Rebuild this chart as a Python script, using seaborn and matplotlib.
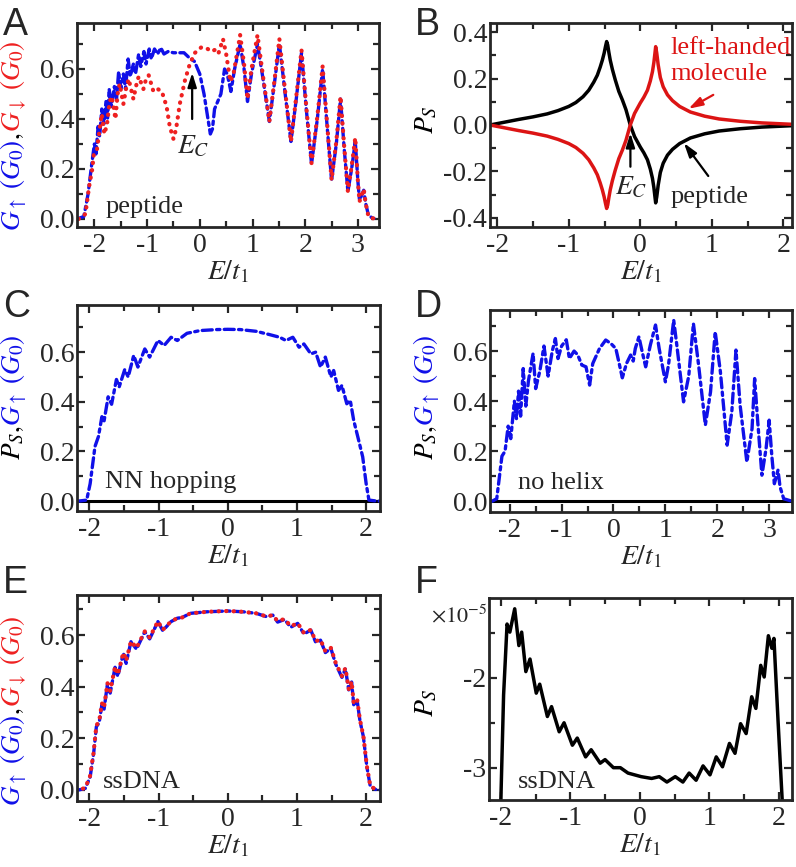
"""Six-panel conductance / spin-polarisation figure (panels A-F)."""

import matplotlib

matplotlib.use("Agg")

import matplotlib.pyplot as plt  # noqa: E402
import seaborn as sns  # noqa: E402
from matplotlib.ticker import FormatStrFormatter, MultipleLocator  # noqa: E402

W, H = 796, 867

BLUE = "#1010e8"
RED = "#ee2020"
RED_B = "#dc1414"
BLACK = "#000000"

# ---- Panel A: peptide, G_up (blue) and G_down (red) ----
a_up_E = [-2.33, -2.2, -2.12, -2.05, -2.0, -1.97, -1.93, -1.9, -1.86, -1.82, -1.78, -1.75,
          -1.72, -1.68, -1.62, -1.58, -1.54, -1.5, -1.45, -1.41, -1.36, -1.32, -1.26, -1.22,
          -1.16, -1.12, -1.06, -1.02, -0.96, -0.92, -0.86, -0.8, -0.74, -0.68, -0.6, -0.5,
          -0.4, -0.3, -0.2, -0.1, 0.0, 0.08, 0.14, 0.2, 0.24, 0.28, 0.34, 0.4, 0.47, 0.52,
          0.59, 0.66, 0.765, 0.84, 0.905, 0.98, 1.095, 1.2, 1.32, 1.42, 1.51, 1.62, 1.73,
          1.83, 1.93, 2.02, 2.12, 2.23, 2.33, 2.42, 2.5, 2.59, 2.67, 2.74, 2.81, 2.88, 2.95,
          3.0, 3.03, 3.08, 3.11, 3.15, 3.2, 3.28, 3.38]
a_up_G = [0.0, 0.01, 0.1, 0.22, 0.3, 0.26, 0.37, 0.33, 0.44, 0.38, 0.47, 0.40,
          0.52, 0.45, 0.53, 0.48, 0.59, 0.52, 0.58, 0.52, 0.64, 0.57, 0.62, 0.58,
          0.66, 0.61, 0.67, 0.62, 0.68, 0.64, 0.68, 0.66, 0.685, 0.66, 0.67, 0.665,
          0.665, 0.665, 0.645, 0.63, 0.58, 0.5, 0.42, 0.34, 0.36, 0.44, 0.47, 0.5, 0.6, 0.58,
          0.51, 0.6, 0.70, 0.6, 0.47, 0.58, 0.70, 0.56, 0.39, 0.55, 0.70, 0.5, 0.31,
          0.48, 0.665, 0.44, 0.22, 0.4, 0.6, 0.36, 0.155, 0.3, 0.48, 0.28, 0.11, 0.2, 0.31,
          0.15, 0.075, 0.1, 0.115, 0.06, 0.015, 0.003, 0.0]

a_dn_E = [-2.3, -2.17, -2.1, -2.04, -2.01, -1.95, -1.9, -1.86, -1.81, -1.76, -1.71, -1.67,
          -1.6, -1.56, -1.52, -1.45, -1.4, -1.35, -1.26, -1.2, -1.16, -1.07, -1.02, -0.97,
          -0.88, -0.8, -0.72, -0.63, -0.57, -0.5, -0.45, -0.38, -0.28, -0.19, -0.09, 0.03,
          0.13, 0.22, 0.28, 0.35, 0.44, 0.5, 0.58, 0.64, 0.765, 0.84, 0.905, 0.98, 1.095,
          1.2, 1.32, 1.42, 1.51, 1.62, 1.73, 1.83, 1.93, 2.02, 2.12, 2.23, 2.33, 2.42, 2.5,
          2.59, 2.67, 2.74, 2.81, 2.88, 2.95, 3.0, 3.03, 3.08, 3.11, 3.15, 3.2, 3.28, 3.38]
a_dn_G = [0.0, 0.02, 0.13, 0.2, 0.26, 0.28, 0.36, 0.42, 0.34, 0.38, 0.47, 0.49,
          0.40, 0.50, 0.54, 0.46, 0.52, 0.56, 0.48, 0.54, 0.57, 0.52, 0.56, 0.575,
          0.51, 0.52, 0.51, 0.45, 0.37, 0.32, 0.36, 0.46, 0.556, 0.62, 0.665, 0.687,
          0.683, 0.67, 0.676, 0.66, 0.72, 0.66, 0.55, 0.58, 0.736, 0.62, 0.48, 0.6, 0.736,
          0.57, 0.39, 0.56, 0.72, 0.51, 0.31, 0.49, 0.675, 0.45, 0.223, 0.41, 0.61, 0.37, 0.156,
          0.31, 0.49, 0.29, 0.11, 0.21, 0.325, 0.15, 0.07, 0.1, 0.12, 0.06, 0.01, 0.003, 0.0]

# ---- Panel B: spin polarisation, peptide (black) and left-handed molecule (red) ----
b_E = [-2.1, -1.9, -1.7, -1.5, -1.3, -1.15, -1.0, -0.9, -0.8, -0.72, -0.65, -0.6,
       -0.56, -0.53, -0.505, -0.485, -0.47, -0.455, -0.44, -0.42, -0.39, -0.35, -0.3, -0.25,
       -0.2, -0.14, -0.08, 0.0, 0.05, 0.1, 0.14, 0.17, 0.19, 0.205, 0.215, 0.23, 0.25, 0.28,
       0.32, 0.38, 0.45, 0.55, 0.7, 0.9, 1.1, 1.4, 1.7, 2.12]
b_pep = [0.0, 0.012, 0.024, 0.035, 0.048, 0.062, 0.08, 0.097, 0.122, 0.15, 0.185, 0.215,
         0.25, 0.28, 0.31, 0.34, 0.36, 0.345, 0.315, 0.28, 0.24, 0.195, 0.145, 0.108,
         0.066, 0.0, -0.05, -0.095, -0.12, -0.15, -0.19, -0.23, -0.27, -0.31, -0.336, -0.31, -0.26, -0.205,
         -0.165, -0.13, -0.105, -0.08, -0.056, -0.038, -0.026, -0.016, -0.009, -0.003]
b_left = [0.0, -0.012, -0.024, -0.035, -0.048, -0.062, -0.08, -0.097, -0.122, -0.15, -0.185, -0.215,
          -0.25, -0.28, -0.31, -0.34, -0.36, -0.345, -0.315, -0.28, -0.24, -0.195, -0.145, -0.108,
          -0.066, 0.0, 0.05, 0.095, 0.12, 0.15, 0.19, 0.23, 0.27, 0.31, 0.338, 0.31, 0.26, 0.205,
          0.165, 0.13, 0.105, 0.08, 0.056, 0.038, 0.026, 0.016, 0.009, 0.003]

# ---- Panel C: NN hopping only ----
c_E = [-2.2, -2.15, -2.04, -1.99, -1.92, -1.87, -1.82, -1.79, -1.73, -1.68, -1.61, -1.57,
       -1.49, -1.44, -1.36, -1.3, -1.2, -1.13, -1.01, -0.92, -0.82, -0.73, -0.59, -0.4,
       -0.16, 0.0, 0.18, 0.41, 0.6, 0.75, 0.84, 0.94, 1.03, 1.1, 1.2, 1.27, 1.34, 1.41,
       1.49, 1.53, 1.6, 1.65, 1.72, 1.77, 1.82, 1.88, 1.95, 2.0, 2.04, 2.15, 2.2]
c_G = [0.0, 0.0, 0.004, 0.07, 0.22, 0.26, 0.34, 0.32, 0.42, 0.39, 0.49, 0.46,
       0.53, 0.5, 0.587, 0.54, 0.613, 0.58, 0.647, 0.627, 0.66, 0.647, 0.676, 0.687,
       0.691, 0.692, 0.691, 0.684, 0.671, 0.66, 0.647, 0.66, 0.62, 0.633, 0.593, 0.6, 0.54, 0.58,
       0.5, 0.526, 0.446, 0.466, 0.392, 0.406, 0.325, 0.258, 0.178, 0.07, 0.004, 0.0, 0.0]
c_ps_E = [-2.2, 2.2]
c_ps = [0.0, 0.0]

# ---- Panel D: no helix ----
d_E = [-2.38, -2.34, -2.25, -2.15, -2.09, -2.03, -1.98, -1.91, -1.87, -1.83, -1.79, -1.74,
       -1.69, -1.64, -1.55, -1.5, -1.42, -1.34, -1.26, -1.18, -1.12, -1.07, -1.0, -0.91,
       -0.85, -0.76, -0.69, -0.61, -0.53, -0.46, -0.4, -0.27, -0.15, -0.05, 0.045, 0.11,
       0.17, 0.25, 0.33, 0.38, 0.42, 0.49, 0.55, 0.62, 0.71, 0.81, 0.88, 1.0, 1.06, 1.16,
       1.22, 1.35, 1.45, 1.54, 1.64, 1.77, 1.87, 1.96, 2.06, 2.19, 2.28, 2.36, 2.44, 2.57,
       2.67, 2.72, 2.78, 2.86, 2.94, 3.0, 3.05, 3.1, 3.17, 3.21, 3.28, 3.44]
d_G = [0.0, 0.0, 0.01, 0.18, 0.2, 0.3, 0.25, 0.4, 0.33, 0.44, 0.34, 0.53,
       0.38, 0.48, 0.59, 0.45, 0.52, 0.62, 0.5, 0.6, 0.65, 0.57, 0.62, 0.645,
       0.57, 0.6, 0.585, 0.544, 0.537, 0.464, 0.55, 0.61, 0.644, 0.63, 0.61, 0.55,
       0.493, 0.55, 0.584, 0.56, 0.61, 0.657, 0.6, 0.537, 0.624, 0.704, 0.61, 0.477, 0.544, 0.724,
       0.624, 0.397, 0.5, 0.71, 0.544, 0.304, 0.437, 0.677, 0.517, 0.224, 0.357, 0.604, 0.384, 0.157,
       0.29, 0.49, 0.317, 0.104, 0.21, 0.324, 0.184, 0.07, 0.124, 0.057, 0.01, 0.0]
d_ps_E = [-2.38, 3.44]
d_ps = [0.0, 0.0]

# ---- Panel E: ssDNA, G_up (blue) and G_down (red) ----
e_E = [-2.2, -2.15, -2.06, -1.99, -1.94, -1.9, -1.86, -1.82, -1.79, -1.74, -1.7, -1.63,
       -1.59, -1.51, -1.47, -1.4, -1.32, -1.2, -1.13, -1.01, -0.94, -0.82, -0.73, -0.66,
       -0.54, -0.3, 0.0, 0.22, 0.41, 0.56, 0.65, 0.72, 0.82, 0.91, 1.01, 1.1, 1.2, 1.27,
       1.34, 1.41, 1.49, 1.56, 1.65, 1.7, 1.75, 1.79, 1.82, 1.87, 1.91, 1.96, 2.01, 2.06,
       2.15, 2.2]
e_up = [0.0, 0.0, 0.006, 0.05, 0.14, 0.245, 0.26, 0.33, 0.31, 0.41, 0.375, 0.475,
        0.44, 0.53, 0.49, 0.574, 0.545, 0.613, 0.585, 0.652, 0.617, 0.652, 0.665, 0.668,
        0.684, 0.69, 0.693, 0.69, 0.684, 0.671, 0.677, 0.65, 0.66, 0.63, 0.645, 0.604, 0.619, 0.572,
        0.58, 0.532, 0.548, 0.487, 0.436, 0.47, 0.383, 0.418, 0.33, 0.346, 0.268, 0.206, 0.09, 0.013,
        0.0, 0.0]
e_dn = [0.0, 0.0, 0.008, 0.055, 0.145, 0.25, 0.265, 0.336, 0.318, 0.414, 0.383, 0.478,
        0.447, 0.532, 0.5, 0.576, 0.55, 0.614, 0.59, 0.653, 0.62, 0.653, 0.665, 0.668,
        0.684, 0.69, 0.693, 0.69, 0.684, 0.672, 0.677, 0.654, 0.662, 0.634, 0.646, 0.608, 0.62, 0.576,
        0.582, 0.537, 0.55, 0.492, 0.441, 0.472, 0.388, 0.42, 0.336, 0.35, 0.272, 0.208, 0.092, 0.015,
        0.0, 0.0]

# ---- Panel F: ssDNA spin polarisation (units of 1e-5) ----
f_E = [-2.03, -2.0, -1.96, -1.91, -1.87, -1.8, -1.74, -1.7, -1.64, -1.58, -1.49, -1.44,
       -1.33, -1.27, -1.16, -1.09, -0.97, -0.9, -0.78, -0.7, -0.57, -0.5, -0.38, -0.28,
       -0.17, 0.02, 0.17, 0.28, 0.39, 0.51, 0.62, 0.71, 0.81, 0.91, 1.01, 1.1, 1.19, 1.29,
       1.37, 1.45, 1.53, 1.61, 1.67, 1.74, 1.79, 1.85, 1.9, 1.93, 1.99, 2.05, 2.08]
f_P = [-3.7, -3.38, -2.19, -1.40, -1.49, -1.23, -1.64, -1.49, -1.93, -1.79, -2.17, -2.07,
       -2.43, -2.32, -2.6, -2.5, -2.75, -2.67, -2.88, -2.8, -2.95, -2.91, -3.0, -3.0,
       -3.06, -3.1, -3.12, -3.1, -3.16, -3.1, -3.16, -3.06, -3.14, -2.98, -3.08, -2.88, -2.99, -2.73,
       -2.84, -2.51, -2.62, -2.21, -2.34, -1.86, -1.99, -1.53, -1.67, -1.56, -2.49, -3.38, -3.7]

sns.set_theme(style="ticks")
plt.rcParams.update({
    "font.family": ["Liberation Serif", "DejaVu Serif"],
    "font.serif": ["Liberation Serif", "DejaVu Serif"],
    "mathtext.fontset": "stix",
    "axes.unicode_minus": False,
    "axes.linewidth": 2.0,
    "xtick.direction": "in",
    "ytick.direction": "in",
    "xtick.top": True,
    "ytick.right": True,
    "xtick.labelsize": 20,
    "ytick.labelsize": 20,
    "axes.labelsize": 20,
    "lines.solid_joinstyle": "round",
})

DASHDOT = (0, (3, 1.3, 1, 1.3))
DOTS = (0, (0.1, 1.7))
SERIF = "Liberation Serif"


def add_axes_px(fig, left, top, right, bottom):
    return fig.add_axes([left / W, 1 - bottom / H, (right - left) / W, (bottom - top) / H])


def style(ax, xlim, ylim, xmaj, xmin, ymaj, ymin, yfmt="%.1f"):
    ax.set_xlim(*xlim)
    ax.set_ylim(*ylim)
    ax.xaxis.set_major_locator(MultipleLocator(xmaj))
    ax.xaxis.set_minor_locator(MultipleLocator(xmin))
    ax.yaxis.set_major_locator(MultipleLocator(ymaj))
    ax.yaxis.set_minor_locator(MultipleLocator(ymin))
    ax.xaxis.set_major_formatter(FormatStrFormatter("%d"))
    ax.yaxis.set_major_formatter(FormatStrFormatter(yfmt))
    ax.tick_params(which="both", direction="in", top=True, right=True, width=1.6,
                   labelfontfamily=SERIF, labelsize=20)
    ax.tick_params(which="major", length=6)
    ax.tick_params(which="minor", length=4)
    ax.tick_params(axis="x", which="major", pad=4)
    ax.tick_params(axis="y", which="major", pad=2)
    for s in ax.spines.values():
        s.set_linewidth(2.0)
    ax.set_xlabel(r"$E/t_1$", fontsize=20, labelpad=1)
    ax.set_ylabel("")


def line(ax, x, y, color, ls="-", lw=2.5):
    sns.lineplot(x=x, y=y, ax=ax, color=color, linestyle=ls, lw=lw, sort=False,
                 estimator=None, legend=False, dash_capstyle="round")


def stacked_ylabel(fig, parts, x_px, yc_px, size=19.5):
    # vertical label made of differently coloured pieces, stacked bottom to top
    r = fig.canvas.get_renderer()
    texts = [fig.text(0, 0, s, color=c, fontsize=size, rotation=90,
                      rotation_mode="anchor", ha="left", va="baseline") for s, c in parts]
    heights = [t.get_window_extent(r).height for t in texts]
    y = (H - yc_px) - sum(heights) / 2
    for t, h in zip(texts, heights):
        t.set_position((x_px / W, y / H))
        y += h


def arrow(ax, head, tail, color=BLACK):
    ax.annotate("", xy=head, xytext=tail,
                arrowprops=dict(arrowstyle="-|>,head_length=0.7,head_width=0.22",
                                color=color, lw=1.6, shrinkA=0, shrinkB=0))


fig = plt.figure(figsize=(W / 100, H / 100), dpi=100)

# A
ax = add_axes_px(fig, 77, 23, 379, 227)
line(ax, a_up_E, a_up_G, BLUE, DASHDOT, 2.4)
line(ax, a_dn_E, a_dn_G, RED, DOTS, 3.0)
style(ax, (-2.33, 3.40), (-0.032, 0.784), 1, 0.5, 0.2, 0.1)
arrow(ax, (-0.145, 0.585), (-0.145, 0.40))
ax.text(-0.13, 0.29, r"$E_C$", fontsize=20, ha="center", va="center")
ax.text(0.093, 0.067, "peptide", fontsize=19, transform=ax.transAxes, va="baseline")
stacked_ylabel(fig, [(r"$G_{\uparrow}\ (G_0)$", BLUE), (r"$,\ $", BLACK),
                     (r"$G_{\downarrow}\ (G_0)$", RED)], 20, 136)

# B
ax = add_axes_px(fig, 490, 23, 792, 227)
line(ax, b_E, b_pep, BLACK, "-", 2.5)
line(ax, b_E, b_left, RED_B, "-", 2.5)
style(ax, (-2.1, 2.12), (-0.44, 0.44), 1, 0.5, 0.2, 0.1)
arrow(ax, (-0.138, -0.035), (-0.138, -0.18))
ax.text(-0.12, -0.27, r"$E_C$", fontsize=20, ha="center", va="center")
arrow(ax, (0.61, -0.078), (0.95, -0.22))
ax.text(0.97, -0.31, "peptide", fontsize=19, ha="center", va="center")
arrow(ax, (0.674, 0.07), (1.02, 0.13), RED_B)
ax.text(0.42, 0.275, "left-handed\nmolecule", fontsize=19, ha="left", va="center",
        color=RED_B, linespacing=1.25)
stacked_ylabel(fig, [(r"$P_S$", BLACK)], 433, 120, 20)

# C
ax = add_axes_px(fig, 77, 305, 380, 511)
line(ax, c_ps_E, c_ps, BLACK, "-", 2.2)
line(ax, c_E, c_G, BLUE, DASHDOT, 2.4)
style(ax, (-2.18, 2.2), (-0.04, 0.79), 1, 0.5, 0.2, 0.1)
ax.text(0.092, 0.11, "NN hopping", fontsize=19, transform=ax.transAxes, va="baseline")
stacked_ylabel(fig, [(r"$P_S,\ $", BLACK), (r"$G_{\uparrow}\ (G_0)$", BLUE)], 20, 397)

# D
ax = add_axes_px(fig, 490, 310, 792, 512)
line(ax, d_ps_E, d_ps, BLACK, "-", 2.2)
line(ax, d_E, d_G, BLUE, DASHDOT, 2.4)
style(ax, (-2.38, 3.44), (-0.043, 0.764), 1, 0.5, 0.2, 0.1)
ax.text(0.093, 0.116, "no helix", fontsize=19, transform=ax.transAxes, va="baseline")
stacked_ylabel(fig, [(r"$P_S,\ $", BLACK), (r"$G_{\uparrow}\ (G_0)$", BLUE)], 433, 397)

# E
ax = add_axes_px(fig, 77, 595, 380, 801)
line(ax, e_E, e_up, BLUE, DASHDOT, 2.4)
line(ax, e_E, e_dn, RED, DOTS, 3.0)
style(ax, (-2.18, 2.2), (-0.043, 0.755), 1, 0.5, 0.2, 0.1)
ax.text(0.086, 0.063, "ssDNA", fontsize=19, transform=ax.transAxes, va="baseline")
stacked_ylabel(fig, [(r"$G_{\uparrow}\ (G_0)$", BLUE), (r"$,\ $", BLACK),
                     (r"$G_{\downarrow}\ (G_0)$", RED)], 20, 711)

# F
ax = add_axes_px(fig, 489, 598, 792, 800)
line(ax, f_E, f_P, BLACK, "-", 2.5)
style(ax, (-2.17, 2.19), (-3.36, -1.11), 1, 0.5, 1, 0.5, "%d")
ax.text(0.096, 0.06, "ssDNA", fontsize=19, transform=ax.transAxes, va="baseline")
stacked_ylabel(fig, [(r"$P_S$", BLACK)], 433, 703, 20)
fig.text(431 / W, 1 - 622 / H, r"$\times10^{-5}$", fontsize=16, ha="left", va="baseline")

# panel letters
for letter, x, y in [("A", 3, 35), ("B", 415, 35), ("C", 3, 317),
                     ("D", 415, 317), ("E", 3, 593), ("F", 415, 593)]:
    fig.text(x / W, 1 - y / H, letter, fontsize=27, family="Liberation Sans",
             ha="left", va="baseline")

fig.savefig("out.png", dpi=100)
